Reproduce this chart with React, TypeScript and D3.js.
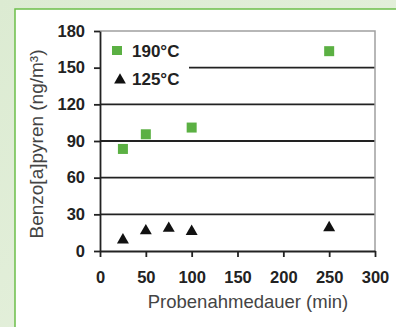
import React, { useEffect, useRef } from "react";
import * as d3 from "d3";

const xTicks = [0, 50, 100, 150, 200, 250, 300];
const yTicks = [0, 30, 60, 90, 120, 150, 180];
const hotTimes = [25, 50, 100, 250];
const hotValues = [83.5, 95.5, 101, 163.5];
const coolTimes = [25, 50, 75, 100, 250];
const coolValues = [9, 16.5, 18.5, 16, 19];
const seriesLabels = ["190°C", "125°C"];

const App = () => {
  const svgRef = useRef<SVGSVGElement>(null);

  useEffect(() => {
    const svg = d3.select(svgRef.current);
    svg.selectAll("*").remove();

    const W = 396;
    const H = 327;
    const left = 100;
    const right = 375;
    const top = 31;
    const bottom = 251;
    const font = "'Liberation Sans', Arial, sans-serif";

    // background
    const defs = svg.append("defs");
    const grad = defs
      .append("linearGradient")
      .attr("id", "bg")
      .attr("x1", 0)
      .attr("y1", 0)
      .attr("x2", 1)
      .attr("y2", 1);
    grad.append("stop").attr("offset", 0).attr("stop-color", "#dcebd2");
    grad.append("stop").attr("offset", 1).attr("stop-color", "#e8f2e0");
    svg.append("rect").attr("width", W).attr("height", H).attr("fill", "url(#bg)");
    svg
      .append("rect")
      .attr("x", 15)
      .attr("y", 9)
      .attr("width", W)
      .attr("height", H)
      .attr("fill", "#fff")
      .attr("stroke", "#6cbf4a")
      .attr("stroke-width", 1.5);

    const x = d3.scaleLinear().domain([0, 300]).range([left, right]);
    const y = d3.scaleLinear().domain([0, 180]).range([bottom, top]);

    // grid lines
    svg
      .append("g")
      .selectAll("line")
      .data(yTicks.filter((t) => t > 0 && t < 180))
      .enter()
      .append("line")
      .attr("x1", left)
      .attr("x2", right)
      .attr("y1", (d) => y(d))
      .attr("y2", (d) => y(d))
      .attr("stroke", "#222")
      .attr("stroke-width", 1.8);

    // top and right frame
    svg
      .append("path")
      .attr("d", `M${left},${y(180)}H${x(300)}V${bottom}`)
      .attr("fill", "none")
      .attr("stroke", "#a0a0a0")
      .attr("stroke-width", 1.5);

    // legend box
    svg
      .append("rect")
      .attr("x", left + 1)
      .attr("y", 38)
      .attr("width", 88)
      .attr("height", 50)
      .attr("fill", "#fff");

    const yAxis = svg
      .append("g")
      .attr("transform", `translate(${left},0)`)
      .call(d3.axisLeft(y).tickValues(yTicks).tickSize(6).tickSizeOuter(0));
    const xAxis = svg
      .append("g")
      .attr("transform", `translate(0,${bottom})`)
      .call(d3.axisBottom(x).tickValues(xTicks).tickSize(6).tickSizeOuter(0));

    [yAxis, xAxis].forEach((a) => {
      a.select(".domain").attr("stroke", "#222").attr("stroke-width", 1.8);
      a.selectAll(".tick line").attr("stroke", "#222").attr("stroke-width", 1.8);
      a.selectAll("text")
        .attr("fill", "#222")
        .style("font-family", font)
        .style("font-size", "16.5px")
        .style("font-weight", "bold");
    });
    yAxis.selectAll("text").attr("x", -15);
    xAxis.selectAll("text").attr("y", 20);

    // points
    const sq = 10;
    svg
      .append("g")
      .selectAll("rect")
      .data(hotTimes)
      .enter()
      .append("rect")
      .attr("x", (d) => x(d) - sq / 2)
      .attr("y", (d, i) => y(hotValues[i]) - sq / 2)
      .attr("width", sq)
      .attr("height", sq)
      .attr("fill", "#5bb043");

    const tri = d3.symbol().type(d3.symbolTriangle).size(62);
    svg
      .append("g")
      .selectAll("path")
      .data(coolTimes)
      .enter()
      .append("path")
      .attr("d", tri)
      .attr("transform", (d, i) => `translate(${x(d)},${y(coolValues[i])})`)
      .attr("fill", "#111");

    // legend
    svg
      .append("rect")
      .attr("x", 112)
      .attr("y", 46)
      .attr("width", 10)
      .attr("height", 9)
      .attr("fill", "#5bb043");
    svg
      .append("path")
      .attr("d", d3.symbol().type(d3.symbolTriangle).size(60)())
      .attr("transform", "translate(120,80)")
      .attr("fill", "#111");
    svg
      .selectAll(".leg")
      .data(seriesLabels)
      .enter()
      .append("text")
      .attr("x", 132)
      .attr("y", (d, i) => 57 + i * 27.5)
      .attr("fill", "#222")
      .style("font-family", font)
      .style("font-size", "17px")
      .style("font-weight", "bold")
      .text((d) => d);

    // axis titles
    svg
      .append("text")
      .attr("x", 248)
      .attr("y", 308)
      .attr("text-anchor", "middle")
      .attr("fill", "#444")
      .style("font-family", font)
      .style("font-size", "18.5px")
      .text("Probenahmedauer (min)");
    svg
      .append("text")
      .attr("transform", `translate(43,144) rotate(-90)`)
      .attr("text-anchor", "middle")
      .attr("fill", "#444")
      .style("font-family", font)
      .style("font-size", "19px")
      .text("Benzo[a]pyren (ng/m³)");
  }, []);

  return (
    <svg
      ref={svgRef}
      width={396}
      height={327}
      style={{ position: "absolute", left: 0, top: 0 }}
    ></svg>
  );
};

export default App;
